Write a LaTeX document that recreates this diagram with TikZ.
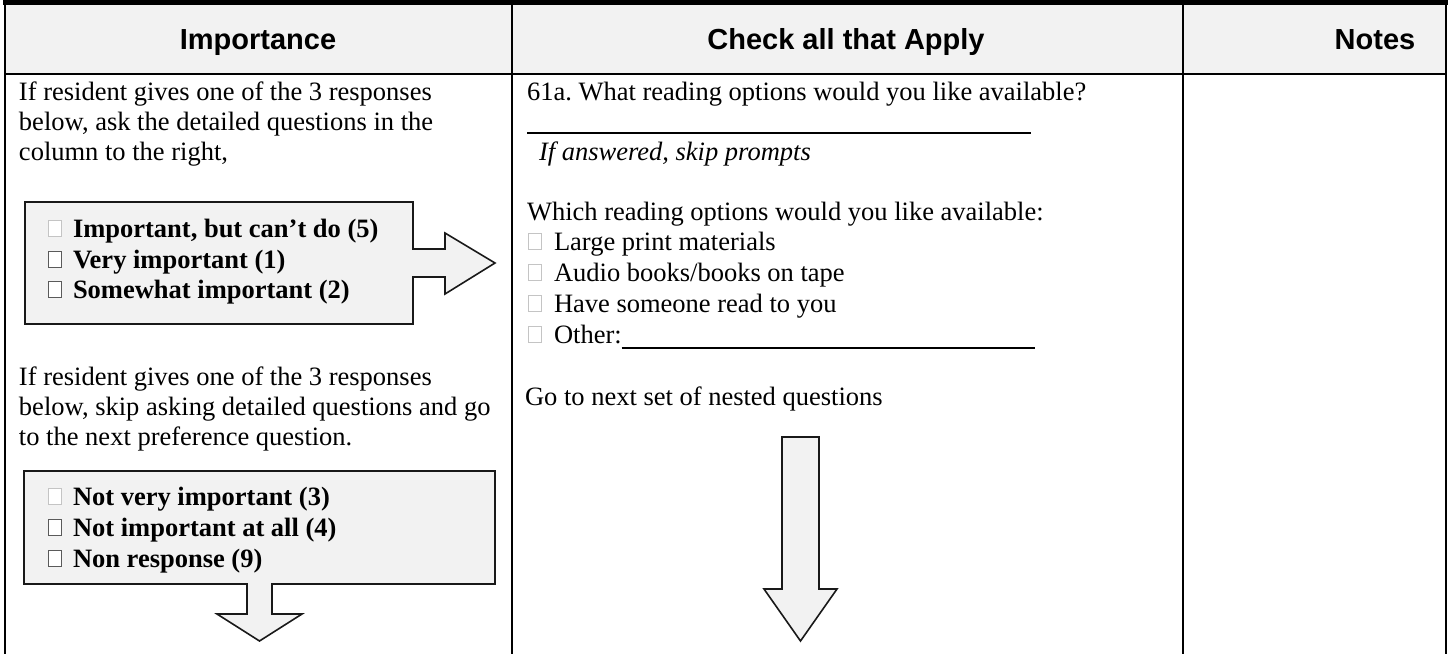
\documentclass[tikz,border=0pt]{standalone}
\usepackage{fontspec}
\setmainfont{Liberation Serif}
\newfontfamily\hdfont{Liberation Sans}
\frenchspacing
\definecolor{boxgray}{HTML}{F2F2F2}
\definecolor{cblight}{HTML}{C4C4C4}
\definecolor{cbdark}{HTML}{5A5A5A}
\tikzset{
  tbl/.style={line width=2.6pt, black},
  callout/.style={draw=black!90, line width=1.6pt, fill=boxgray, line join=miter},
  txt/.style={anchor=base west, inner sep=0pt, outer sep=0pt, font=\fontsize{26.5}{30.3}\selectfont},
  btxt/.style={txt, font=\fontsize{26.5}{30.3}\selectfont\bfseries},
  itxt/.style={txt, font=\fontsize{26.5}{30.3}\selectfont\itshape},
  hdr/.style={anchor=base, inner sep=0pt, font=\hdfont\bfseries\fontsize{29}{33}\selectfont},
  cbox/.style={draw=#1, line width=0.9pt, fill=white, minimum width=13pt, minimum height=16pt, inner sep=0pt, anchor=south west},
  uline/.style={line width=1.3pt, black}
}
\begin{document}
\begin{tikzpicture}[x=1pt,y=-1pt]
\useasboundingbox (0,0) rectangle (1452,654);
% header background
\fill[boxgray] (5,4) rectangle (1446,74);
% top band
\fill[black] (3,0) rectangle (1448,4.5);
% table lines
\draw[tbl] (5,0) -- (5,654);
\draw[tbl] (512,0) -- (512,654);
\draw[tbl] (1183,0) -- (1183,654);
\draw[tbl] (1446,0) -- (1446,654);
\draw[tbl] (5,74) -- (1446,74);
% headers
\node[hdr] (h1) at (258,49) {Importance};
\node[hdr] (h2) at (846,49) {Check all that Apply};
\node[hdr] (h3) at (1375,49) {Notes};
% column 1
\node[txt] (p1a) at (19,100) {If resident gives one of the 3 responses};
\node[txt] (p1b) at (19,130) {below, ask the detailed questions in the};
\node[txt] (p1c) at (19,160) {column to the right,};
\draw[callout] (25,202) -- (413,202) -- (413,249) -- (445,249) -- (445,233) -- (495,263)
  -- (445,294) -- (445,277) -- (413,277) -- (413,324) -- (25,324) -- cycle;
\node[cbox=cblight] (c11) at (48,237) {};
\node[btxt] (b11) at (73,237) {Important, but can’t do (5)};
\node[cbox=cbdark] (c12) at (48,268) {};
\node[btxt] (b12) at (73,268) {Very important (1)};
\node[cbox=cbdark] (c13) at (48,298) {};
\node[btxt] (b13) at (73,298) {Somewhat important (2)};
\node[txt] (p2a) at (19,385) {If resident gives one of the 3 responses};
\node[txt] (p2b) at (19,415) {below, skip asking detailed questions and go};
\node[txt] (p2c) at (19,445) {to the next preference question.};
\draw[callout] (24,471) -- (495,471) -- (495,584) -- (272,584) -- (272,614) -- (302,614)
  -- (259.5,641) -- (217,614) -- (247,614) -- (247,584) -- (24,584) -- cycle;
\node[cbox=cblight] (c21) at (48,505) {};
\node[btxt] (b21) at (73,505) {Not very important (3)};
\node[cbox=cbdark] (c22) at (48,536) {};
\node[btxt] (b22) at (73,536) {Not important at all (4)};
\node[cbox=cbdark] (c23) at (48,567) {};
\node[btxt] (b23) at (73,567) {Non response (9)};
% column 2
\node[txt] (q1) at (527,100) {61a. What reading options would you like available?};
\draw[uline] (527,133) -- (1031,133);
\node[itxt] (q2) at (539,160) {If answered, skip prompts};
\node[txt] (q3) at (527,220) {Which reading options would you like available:};
\node[cbox=cblight] (o1c) at (528,250) {};
\node[txt] (o1) at (554,250) {Large print materials};
\node[cbox=cblight] (o2c) at (528,281) {};
\node[txt] (o2) at (554,281) {Audio books/books on tape};
\node[cbox=cblight] (o3c) at (528,312) {};
\node[txt] (o3) at (554,312) {Have someone read to you};
\node[cbox=cblight] (o4c) at (528,343) {};
\node[txt] (o4) at (554,343) {Other:};
\draw[uline] (o4.base east) ++(0,5) -- (1035,348);
\node[txt] (q4) at (525,405) {Go to next set of nested questions};
\draw[callout] (782,437) -- (819,437) -- (819,589) -- (837,589) -- (800.5,641) -- (764,589)
  -- (782,589) -- cycle;
\end{tikzpicture}
\end{document}
